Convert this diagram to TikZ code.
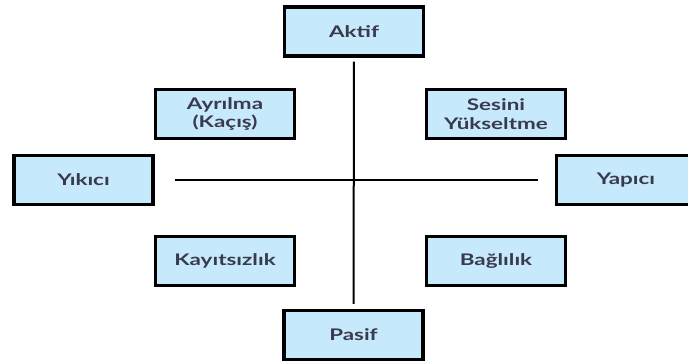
\documentclass[tikz,border=0pt]{standalone}
\usepackage{fontspec}
\setmainfont{Lato}[FakeStretch = 1.4]
\usepackage{tikz}
\definecolor{boxfill}{HTML}{C6E9FB}
\definecolor{boxtext}{HTML}{3A3A4E}
\tikzset{
	quadbox/.style = {draw = black, line width = 3.2pt, fill = boxfill, text = boxtext,
		minimum width = 139pt, minimum height = 49pt, inner sep = 0pt,
		align = center, font = \fontsize{16}{18.5}\selectfont\bfseries},
	axisline/.style = {line width = 2pt, black}
}
\begin{document}
\begin{tikzpicture} [x = 1pt, y = -1pt]
	\useasboundingbox (0,0) rectangle (688,363);
	\clip (0,0) rectangle (688,363);
	% axes boxes
	\node [quadbox] (aktif) at (354,31.5) {Aktif};
	\node [quadbox] (pasif) at (353.5,335) {Pasif};
	\node [quadbox] (yikici) at (83.5,180) {Yıkıcı};
	\node [quadbox] (yapici) at (626,180) {Yapıcı};
	% quadrant boxes
	\node [quadbox] (ayrilma) at (225,114) {Ayrılma\\(Kaçış)};
	\node [quadbox] (sesini) at (496,114) {Sesini\\Yükseltme};
	\node [quadbox] (kayitsiz) at (225,261) {Kayıtsızlık};
	\node [quadbox] (baglilik) at (496,261) {Bağlılık};
	% cross
	\draw [axisline, shorten <= 4pt, shorten >= 5pt] (aktif) -- (pasif);
	\draw [axisline, shorten <= 20pt, shorten >= 17pt] (yikici) -- (yapici);
\end{tikzpicture}
\end{document}
